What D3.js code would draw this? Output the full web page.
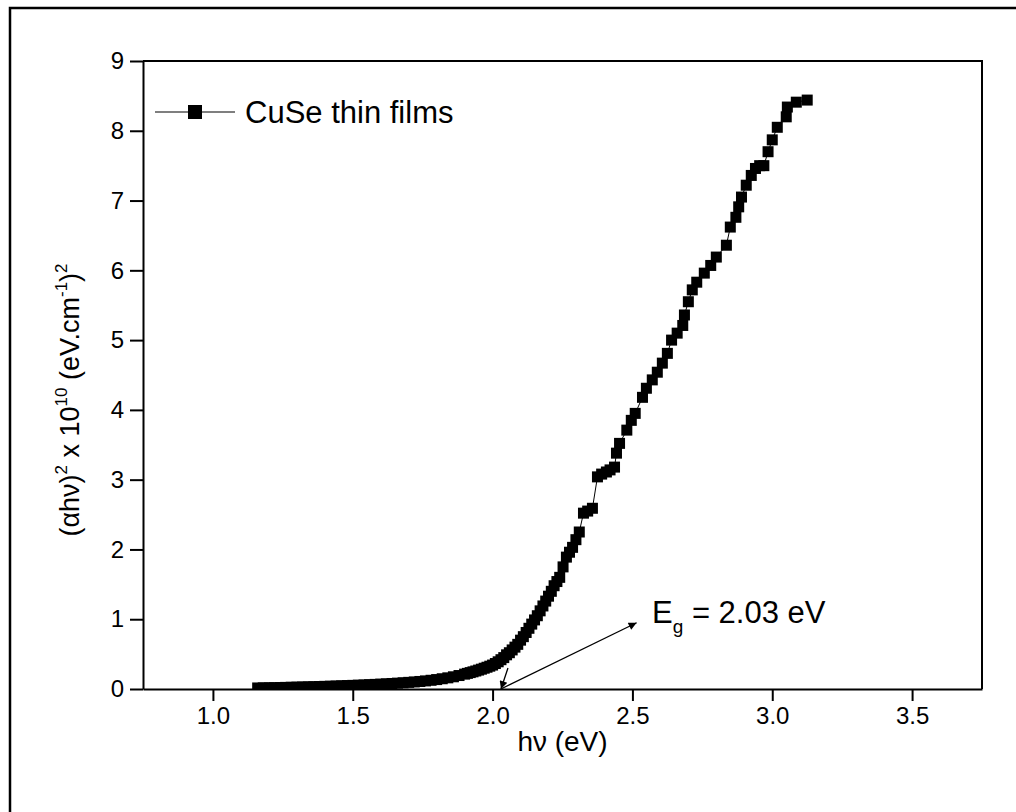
<!DOCTYPE html>
<html>
<head>
<meta charset="utf-8">
<script src="https://cdn.jsdelivr.net/npm/d3@7"></script>
<style>
  body { margin: 0; background: #fff; overflow: hidden; }
  svg { display: block; font-family: "Liberation Sans", Arial, sans-serif; }
</style>
</head>
<body>
<div id="chart"></div>
<script>
// photon energy (eV)
const hv = [
  1.16, 1.18, 1.20, 1.22, 1.24, 1.26, 1.28, 1.30, 1.32, 1.34,
  1.36, 1.38, 1.40, 1.42, 1.44, 1.46, 1.48, 1.50, 1.52, 1.54,
  1.56, 1.58, 1.60, 1.62, 1.64, 1.66, 1.68, 1.70, 1.72, 1.74,
  1.76, 1.78, 1.80, 1.82, 1.84, 1.86, 1.88, 1.90, 1.91, 1.92,
  1.93, 1.94, 1.95, 1.96, 1.97, 1.98, 1.99, 2.00, 2.01, 2.02,
  2.03, 2.04, 2.05, 2.06, 2.07, 2.08, 2.09, 2.10, 2.11, 2.12,
  2.13, 2.14, 2.15, 2.16, 2.17, 2.18, 2.19, 2.20, 2.21, 2.22,
  2.23, 2.24, 2.252, 2.264, 2.275, 2.286, 2.298, 2.31, 2.325, 2.34,
  2.357, 2.375, 2.39, 2.407, 2.42, 2.436, 2.443, 2.454, 2.48, 2.496,
  2.51, 2.536, 2.55, 2.571, 2.589, 2.607, 2.625, 2.64, 2.66, 2.68,
  2.686, 2.70, 2.714, 2.73, 2.757, 2.78, 2.80, 2.836, 2.85, 2.87,
  2.88, 2.89, 2.907, 2.925, 2.94, 2.955, 2.97, 2.985, 3.00, 3.018,
  3.05, 3.054, 3.086, 3.125
];
// (alpha h nu)^2 x 1e10
const ahv2 = [
  0.015, 0.016, 0.018, 0.019, 0.021, 0.023, 0.025, 0.027, 0.029, 0.031,
  0.033, 0.035, 0.038, 0.040, 0.043, 0.046, 0.049, 0.052, 0.055, 0.058,
  0.062, 0.066, 0.070, 0.074, 0.079, 0.084, 0.089, 0.095, 0.101, 0.108,
  0.116, 0.125, 0.135, 0.147, 0.160, 0.175, 0.193, 0.213, 0.224, 0.235,
  0.246, 0.258, 0.271, 0.284, 0.298, 0.312, 0.327, 0.343, 0.365, 0.39,
  0.42, 0.45, 0.49, 0.52, 0.56, 0.60, 0.64, 0.70, 0.75, 0.81,
  0.87, 0.93, 0.99, 1.05, 1.12, 1.19, 1.26, 1.33, 1.40, 1.48,
  1.54, 1.60, 1.75, 1.89, 1.96, 2.03, 2.14, 2.25, 2.52, 2.55,
  2.59, 3.04, 3.08, 3.11, 3.14, 3.18, 3.38, 3.52, 3.71, 3.85,
  3.95, 4.18, 4.31, 4.43, 4.54, 4.67, 4.81, 5.00, 5.10, 5.21,
  5.36, 5.55, 5.72, 5.83, 5.96, 6.07, 6.19, 6.36, 6.62, 6.76,
  6.91, 7.05, 7.22, 7.36, 7.46, 7.50, 7.50, 7.70, 7.87, 8.05,
  8.20, 8.34, 8.41, 8.44
];

const xTicks = [1.0, 1.5, 2.0, 2.5, 3.0, 3.5];
const yTicks = [0, 1, 2, 3, 4, 5, 6, 7, 8, 9];
const seriesName = 'CuSe thin films';
const eg = 2.03;

let w = 1016, h = 812;
let margin = {left: 143, top: 61, right: 1016 - 982, bottom: 812 - 689};

let svg = d3.select('#chart').append('svg')
    .attr('width', w).attr('height', h);

// outer frame of the figure (only top and left show)
svg.append('path')
    .attr('d', 'M10,1000V8H1100')
    .attr('fill', 'none').attr('stroke', '#000').attr('stroke-width', 2.5);

let x = d3.scaleLinear().domain([0.75, 3.75]).range([margin.left, w - margin.right]);
let y = d3.scaleLinear().domain([0, 9]).range([h - margin.bottom, margin.top]);

let data = hv.map((d, i) => ({x: d, y: ahv2[i]}));

let defs = svg.append('defs');
defs.append('clipPath').attr('id', 'plot-clip')
  .append('rect')
    .attr('x', x.range()[0]).attr('y', y.range()[1])
    .attr('width', x.range()[1] - x.range()[0])
    .attr('height', y.range()[0] - y.range()[1]);

defs.append('marker')
    .attr('id', 'arrow').attr('viewBox', '0 0 10 10')
    .attr('refX', 10).attr('refY', 5)
    .attr('markerWidth', 14).attr('markerHeight', 8)
    .attr('markerUnits', 'userSpaceOnUse')
    .attr('orient', 'auto')
  .append('path').attr('d', 'M0,0L10,5L0,10z').attr('fill', '#000');

// axes
let xAxis = svg.append('g')
    .attr('transform', `translate(0,${y(0)})`)
    .call(d3.axisBottom(x).tickValues(xTicks).tickFormat(d3.format('.1f'))
        .tickSize(12).tickSizeOuter(0).tickPadding(6));
let yAxis = svg.append('g')
    .attr('transform', `translate(${x.range()[0]},0)`)
    .call(d3.axisLeft(y).tickValues(yTicks).tickFormat(d3.format('d'))
        .tickSize(13).tickSizeOuter(0).tickPadding(6));

[xAxis, yAxis].forEach(a => {
    a.attr('font-size', 24).attr('font-family', '"Liberation Sans", Arial, sans-serif');
    a.select('.domain').attr('stroke-width', 2);
    a.selectAll('.tick line').attr('stroke-width', 2);
    a.selectAll('.tick text').attr('fill', '#000');
});

// top + right borders of the plot box
svg.append('path')
    .attr('d', `M${x.range()[0]},${y.range()[1]}H${x.range()[1]}V${y.range()[0]}`)
    .attr('fill', 'none').attr('stroke', '#000').attr('stroke-width', 2);

// series
let plot = svg.append('g').attr('clip-path', 'url(#plot-clip)');
let line = d3.line().x(d => x(d.x)).y(d => y(d.y));
plot.append('path').datum(data)
    .attr('d', line).attr('fill', 'none').attr('stroke', '#000').attr('stroke-width', 1);
let ms = 11;
plot.selectAll('rect.pt').data(data).enter().append('rect')
    .attr('class', 'pt')
    .attr('x', d => x(d.x) - ms / 2).attr('y', d => y(d.y) - ms / 2)
    .attr('width', ms).attr('height', ms).attr('fill', '#000');

// band gap annotation
svg.append('line')
    .attr('x1', x(eg)).attr('y1', y(0))
    .attr('x2', x(2.515)).attr('y2', y(0.95))
    .attr('stroke', '#000').attr('stroke-width', 1.3).attr('marker-end', 'url(#arrow)');
svg.append('line')
    .attr('x1', x(2.055)).attr('y1', y(0.3))
    .attr('x2', x(eg)).attr('y2', y(0))
    .attr('stroke', '#000').attr('stroke-width', 1.3).attr('marker-end', 'url(#arrow)');

let egText = svg.append('text')
    .attr('x', 652).attr('y', 623)
    .attr('font-size', 31).attr('fill', '#000');
egText.append('tspan').text('E');
egText.append('tspan').attr('font-size', 19).attr('dy', 10).text('g');
egText.append('tspan').attr('dy', -10).text(` = ${eg.toFixed(2)} eV`);

// legend
let lg = svg.append('g').attr('transform', 'translate(155,112)');
lg.append('line').attr('x1', 0).attr('x2', 80).attr('stroke', '#000').attr('stroke-width', 1.2);
lg.append('rect').attr('x', 40 - 7).attr('y', -7).attr('width', 14).attr('height', 14).attr('fill', '#000');
lg.append('text').attr('x', 90).attr('y', 11).attr('font-size', 31).attr('fill', '#000').text(seriesName);

// axis titles
svg.append('text')
    .attr('x', (x.range()[0] + x.range()[1]) / 2).attr('y', 751)
    .attr('text-anchor', 'middle').attr('font-size', 28).attr('fill', '#000')
    .text('hν (eV)');

let yt = svg.append('text')
    .attr('transform', 'translate(79,400) rotate(-90)')
    .attr('text-anchor', 'middle').attr('font-size', 27).attr('fill', '#000');
yt.append('tspan').text('(αhν)');
yt.append('tspan').attr('font-size', 17).attr('dy', -12).text('2');
yt.append('tspan').attr('dy', 12).text(' x 10');
yt.append('tspan').attr('font-size', 17).attr('dy', -12).text('10');
yt.append('tspan').attr('dy', 12).text(' (eV.cm');
yt.append('tspan').attr('font-size', 17).attr('dy', -12).text('-1');
yt.append('tspan').attr('dy', 12).text(')');
yt.append('tspan').attr('font-size', 17).attr('dy', -12).text('2');
</script>
</body>
</html>
